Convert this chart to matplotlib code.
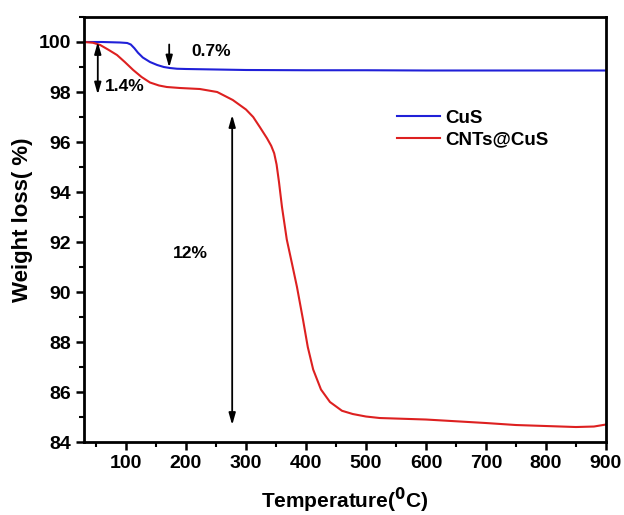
import matplotlib

matplotlib.use("Agg")
import matplotlib.pyplot as plt
from matplotlib.ticker import MultipleLocator

plt.rcParams["font.family"] = ["Liberation Sans", "DejaVu Sans"]
plt.rcParams["font.weight"] = "bold"

# CuS TGA curve
cus_t = [30, 60, 90, 102, 108, 114, 120, 128, 140, 152, 163, 173, 185, 200, 300,
         400, 500, 600, 700, 800, 900]
cus_w = [100.0, 100.0, 99.98, 99.96, 99.9, 99.75, 99.57, 99.38, 99.2, 99.08,
         99.0, 98.96, 98.93, 98.92, 98.88, 98.87, 98.87, 98.86, 98.86, 98.86, 98.86]

# CNTs@CuS TGA curve
cnt_t = [30, 45, 57, 70, 85, 98, 112, 126, 140, 155, 168, 190, 223, 252, 278, 300,
         312, 323, 335, 342, 347, 351, 355, 360, 368, 377, 385, 395, 403, 412,
         425, 440, 460, 478, 500, 523, 600, 700, 750, 800, 850, 880, 900]
cnt_w = [100.0, 99.97, 99.88, 99.7, 99.48, 99.2, 98.88, 98.6, 98.38, 98.26, 98.2,
         98.16, 98.12, 98.0, 97.68, 97.3, 97.0, 96.6, 96.15, 95.85, 95.55, 95.1,
         94.4, 93.4, 92.1, 91.1, 90.2, 88.9, 87.8, 86.9, 86.1, 85.6, 85.25, 85.12,
         85.02, 84.96, 84.9, 84.76, 84.68, 84.64, 84.6, 84.62, 84.7]

# annotations: (x, y_from, y_to)
arrow_07 = (172, 99.9, 98.98)
arrow_14 = (53, 100.0, 97.9)
arrow_12 = (277, 97.08, 84.68)

fig = plt.figure(figsize=(6.24, 5.15), dpi=100)
ax = fig.add_axes([0.1346, 0.1417, 0.8365, 0.8253])

ax.plot(cus_t, cus_w, color="#2020d8", lw=1.5, label="CuS")
ax.plot(cnt_t, cnt_w, color="#dd2020", lw=1.5, label="CNTs@CuS")

ax.set_xlim(30, 900)
ax.set_ylim(84, 101)
ax.xaxis.set_major_locator(MultipleLocator(100))
ax.xaxis.set_minor_locator(MultipleLocator(50))
ax.yaxis.set_minor_locator(MultipleLocator(1))
ax.set_yticks(range(84, 101, 2))
ax.tick_params(which="major", direction="out", length=6, width=1.8, labelsize=14)
ax.tick_params(which="minor", direction="out", length=3.5, width=1.5)
for sp in ax.spines.values():
    sp.set_linewidth(2)

ax.set_xlabel("Temperature($\\mathbf{^{0}}$C)", fontsize=15, fontweight="bold", labelpad=10)
ax.set_ylabel("Weight loss( %)", fontsize=16, fontweight="bold")
ax.yaxis.set_label_coords(-0.098, 0.522)

single = dict(arrowstyle="-|>,head_length=0.7,head_width=0.2", color="black", lw=1.3,
              shrinkA=0, shrinkB=0)
double = dict(arrowstyle="<|-|>,head_length=0.7,head_width=0.2", color="black", lw=1.3,
              shrinkA=0, shrinkB=0)
x, y0, y1 = arrow_07
ax.annotate("", xy=(x, y1), xytext=(x, y0), arrowprops=single)
x, y0, y1 = arrow_14
ax.annotate("", xy=(x, y1), xytext=(x, y0), arrowprops=double)
x, y0, y1 = arrow_12
ax.annotate("", xy=(x, y1), xytext=(x, y0), arrowprops=double)

ax.text(209, 99.6, "0.7%", fontsize=12.5, fontweight="bold", va="center")
ax.text(65, 98.2, "1.4%", fontsize=12.5, fontweight="bold", va="center")
ax.text(207, 91.56, "12%", fontsize=12.5, fontweight="bold", va="center", ha="center")

ax.legend(loc="upper left", bbox_to_anchor=(0.6, 0.782), frameon=False, fontsize=13.5,
          handlelength=2.3, handletextpad=0.25, labelspacing=0.25,
          borderpad=0, borderaxespad=0)

fig.savefig("out.png", dpi=100)
